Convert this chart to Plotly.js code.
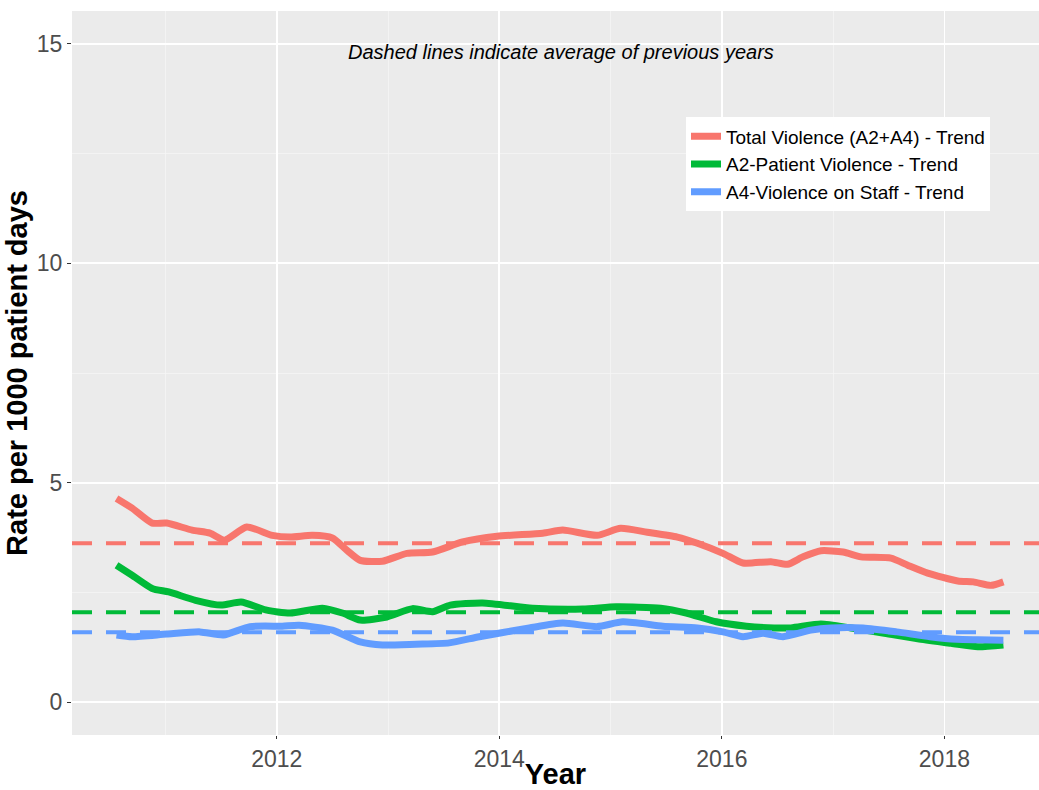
<!DOCTYPE html>
<html><head><meta charset="utf-8">
<script src="https://cdn.plot.ly/plotly-3.0.1.min.js"></script>
<style>html,body{margin:0;padding:0;background:#fff;}#chart{width:1039px;height:790px;}</style>
</head><body><div id="chart"></div>
<script>
// Trend series (year, rate per 1000 patient days)
const totalYears = [2010.56,2010.70,2010.88,2011.01,2011.24,2011.40,2011.53,2011.73,2011.96,2012.12,2012.32,2012.50,2012.63,2012.75,2012.95,2013.17,2013.40,2013.67,2013.98,2014.39,2014.57,2014.88,2015.09,2015.33,2015.60,2015.78,2016.01,2016.19,2016.44,2016.59,2016.73,2016.89,2017.09,2017.25,2017.52,2017.67,2017.85,2018.12,2018.26,2018.42,2018.53];
const totalRate  = [4.64,4.42,4.08,4.08,3.92,3.85,3.69,3.99,3.80,3.76,3.80,3.74,3.46,3.23,3.21,3.39,3.42,3.65,3.78,3.85,3.92,3.80,3.96,3.87,3.76,3.62,3.39,3.17,3.20,3.14,3.31,3.45,3.42,3.31,3.28,3.12,2.94,2.76,2.74,2.66,2.74];

const a2Years = [2010.56,2010.70,2010.88,2011.03,2011.27,2011.50,2011.68,2011.90,2012.12,2012.41,2012.59,2012.75,2012.99,2013.22,2013.40,2013.56,2013.85,2014.30,2014.75,2015.05,2015.45,2015.68,2015.95,2016.22,2016.47,2016.62,2016.89,2017.16,2017.46,2017.76,2018.06,2018.30,2018.53];
const a2Rate  = [3.12,2.89,2.59,2.51,2.32,2.21,2.28,2.10,2.03,2.14,2.03,1.87,1.94,2.13,2.06,2.21,2.26,2.14,2.12,2.17,2.14,2.03,1.83,1.73,1.69,1.69,1.78,1.69,1.57,1.44,1.34,1.26,1.30];

const a4Years = [2010.56,2010.70,2011.01,2011.31,2011.52,2011.76,2012.05,2012.20,2012.50,2012.75,2012.95,2013.25,2013.55,2013.82,2014.27,2014.57,2014.88,2015.11,2015.47,2015.78,2016.01,2016.19,2016.37,2016.55,2016.80,2016.98,2017.27,2017.57,2017.87,2018.11,2018.30,2018.53];
const a4Rate  = [1.53,1.49,1.55,1.60,1.53,1.72,1.73,1.75,1.64,1.37,1.30,1.32,1.35,1.49,1.69,1.80,1.72,1.83,1.73,1.69,1.60,1.49,1.57,1.49,1.64,1.69,1.69,1.60,1.49,1.43,1.42,1.41];

// Averages of previous years (dashed lines)
const seriesNames = ["Total Violence (A2+A4) - Trend","A2-Patient Violence - Trend","A4-Violence on Staff - Trend"];
const averages = [3.62, 2.05, 1.59];
const colors = ["#F8766D","#00BA38","#619CFF"];

const xTicks = [2012, 2014, 2016, 2018];
const yTicks = [0, 5, 10, 15];

const trendX = [totalYears, a2Years, a4Years];
const trendY = [totalRate, a2Rate, a4Rate];

const traces = seriesNames.map((n, i) => ({
  type: 'scatter', mode: 'lines', name: n,
  x: trendX[i], y: trendY[i],
  line: {color: colors[i], width: 7, shape: 'spline', smoothing: 0.6}
}));

const shapes = averages.map((v, i) => ({
  type: 'line', xref: 'paper', yref: 'y', x0: 0, x1: 1, y0: v, y1: v,
  line: {color: colors[i], width: 4, dash: '20px,14px'}, layer: 'above'
}));

const FONT = 'Liberation Sans, Arial, sans-serif';
const tickFont = {family: FONT, size: 23, color: '#4D4D4D'};
const titleFont = {family: FONT, size: 29, color: '#000', weight: 'bold'};

const layout = {
  width: 1039, height: 790,
  margin: {l: 72, r: 0, t: 11, b: 55},
  paper_bgcolor: '#ffffff', plot_bgcolor: '#EBEBEB',
  showlegend: true,
  legend: {
    x: (686 - 72) / 967, y: 0.853, xanchor: 'left', yanchor: 'top',
    bgcolor: '#ffffff', borderwidth: 0,
    font: {family: FONT, size: 19, color: '#000'},
    itemwidth: 30, tracegroupgap: 0
  },
  xaxis: {
    range: [2010.16, 2018.85], tickvals: xTicks, ticktext: xTicks.map(String),
    showgrid: true, gridcolor: '#ffffff', gridwidth: 1.6, zeroline: false,
    ticks: 'outside', ticklen: 3, tickcolor: '#333333', tickwidth: 1,
    tickfont: tickFont, showline: false,
    minor: {tickvals: [2011, 2013, 2015, 2017], showgrid: true, gridcolor: '#F5F5F5', gridwidth: 0.8, ticks: ''},
    title: {text: 'Year', font: titleFont, standoff: 0}
  },
  yaxis: {
    range: [-0.75, 15.75], tickvals: yTicks, ticktext: yTicks.map(String),
    showgrid: true, gridcolor: '#ffffff', gridwidth: 1.6, zeroline: false,
    ticks: 'outside', ticklen: 4, tickcolor: '#333333', tickwidth: 1,
    tickfont: tickFont, showline: false,
    minor: {tickvals: [2.5, 7.5, 12.5], showgrid: true, gridcolor: '#F5F5F5', gridwidth: 0.8, ticks: ''},
    title: {text: 'Rate per 1000 patient days', font: titleFont, standoff: 0}
  },
  shapes: shapes,
  annotations: [{
    xref: 'x', yref: 'paper', x: 2014.55, y: 0.943, xanchor: 'center', yanchor: 'middle',
    text: '<i>Dashed lines indicate average of previous years</i>', showarrow: false,
    font: {family: FONT, size: 20, color: '#000'}
  }]
};

Plotly.newPlot('chart', traces, layout, {displayModeBar: false, staticPlot: true});
</script></body></html>
